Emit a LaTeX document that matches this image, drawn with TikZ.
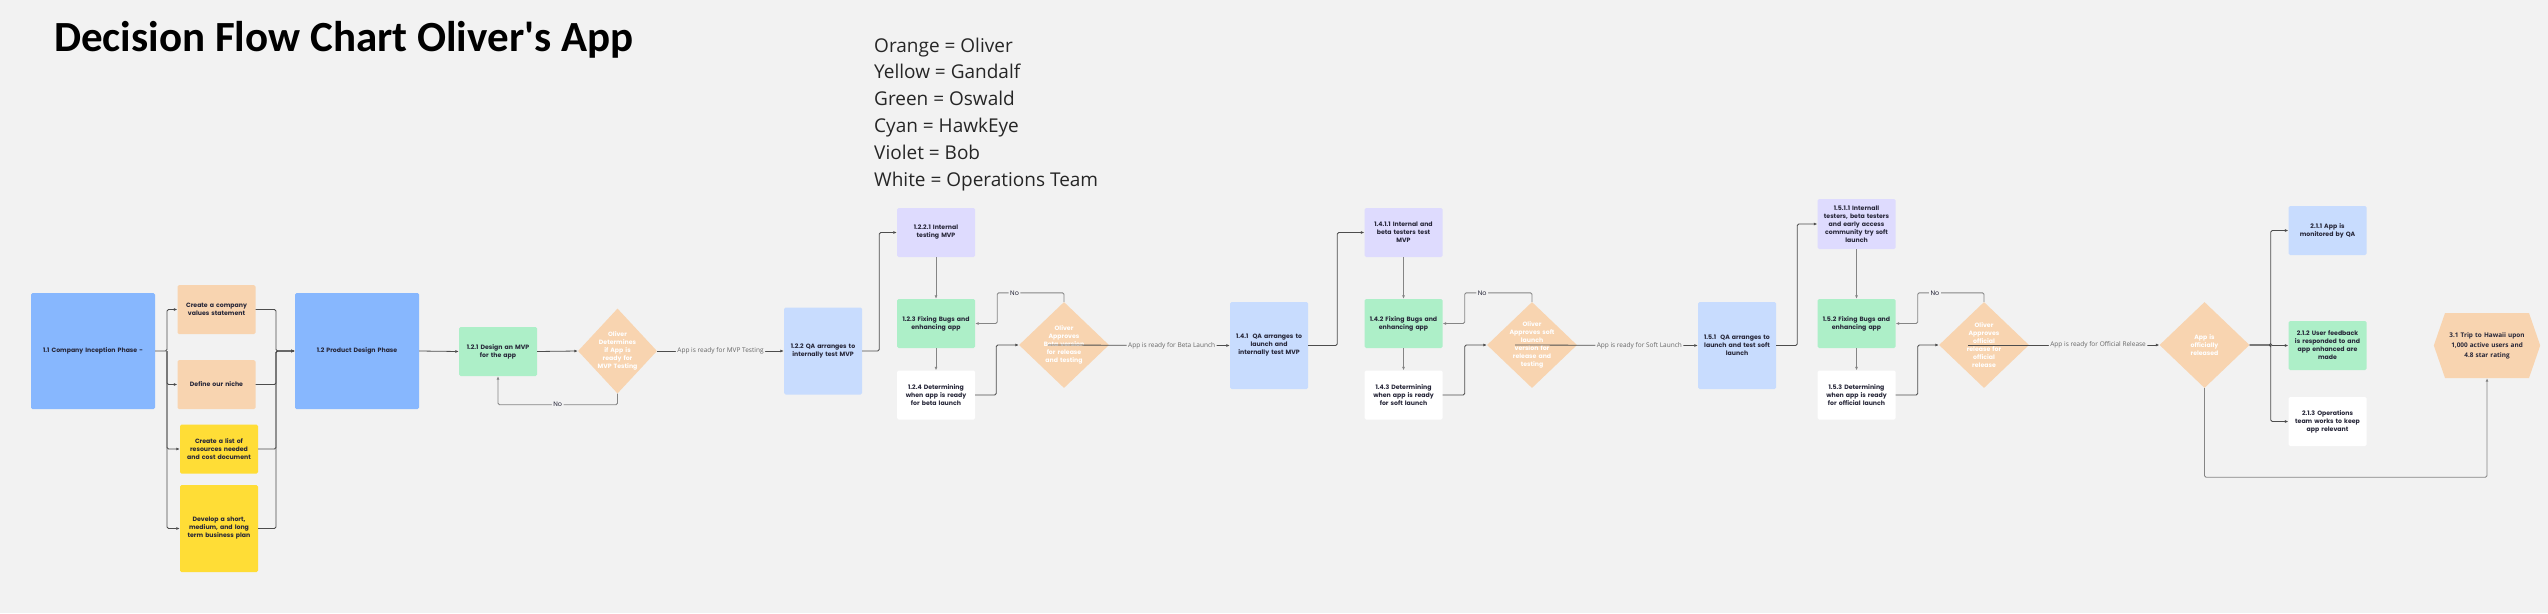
\documentclass[tikz,border=0pt]{standalone}
\usepackage{fontspec}
\setmainfont{Open Sans}
\newfontfamily\boxfont{Poppins}
\newfontfamily\titlefont{Carlito}
\usetikzlibrary{shapes.geometric,shapes.symbols,arrows.meta}

\definecolor{canvas}{HTML}{F2F2F2}
\definecolor{bigblue}{HTML}{87B7FE}
\definecolor{peach}{HTML}{F8D4B0}
\definecolor{sticky}{HTML}{FFDD36}
\definecolor{mint}{HTML}{ADEFC8}
\definecolor{qablue}{HTML}{C8DCFE}
\definecolor{lilac}{HTML}{DEDBFE}
\definecolor{ink}{HTML}{262638}
\definecolor{wire}{HTML}{4D4D4D}
\definecolor{wiregray}{HTML}{858585}
\definecolor{labelgray}{HTML}{666666}

\begin{document}
\begin{tikzpicture}[x=1pt, y=-1pt,
    box/.style={rectangle, rounded corners=1.5pt, minimum width=78pt, minimum height=49pt,
        text width=75pt, align=center, inner sep=1pt, text=ink,
        font=\boxfont\bfseries\fontsize{6.2}{8}\selectfont},
    big/.style={box, fill=bigblue, minimum width=124pt, minimum height=116pt, text width=118pt},
    tall/.style={box, minimum height=87pt},
    choice/.style={diamond, fill=peach, minimum width=90pt, minimum height=86pt, inner sep=-8pt,
        text width=50pt, align=center, text=white,
        font=\boxfont\bfseries\fontsize{6.2}{8}\selectfont},
    hexa/.style={signal, signal to=east and west, signal pointer angle=142, fill=peach,
        minimum width=106pt, minimum height=65pt, text width=84pt, align=center, inner sep=0pt,
        text=ink, font=\bfseries\fontsize{6.4}{10}\selectfont},
    conn/.style={draw=wire, line width=0.8pt, rounded corners=1.5pt, -{Latex[length=3.5pt,width=3pt]}},
    softconn/.style={conn, draw=wiregray, line width=0.9pt},
    lbl/.style={fill=canvas, inner sep=1.5pt, text=labelgray, font=\fontsize{6.5}{8}\selectfont},
    nolbl/.style={fill=canvas, inner sep=1.5pt, text=ink, font=\boxfont\fontsize{6.5}{8}\selectfont},
    legend/.style={anchor=base west, inner sep=0pt, text=black!85, font=\fontsize{19}{22}\selectfont}
  ]
  \fill[canvas] (0,0) rectangle (2548,613);
  \useasboundingbox (0,0) rectangle (2548,613);

  % title and legend
  \node[anchor=base west, inner sep=0pt, font=\titlefont\bfseries\fontsize{43}{50}\selectfont] (title) at (54,51) {Decision Flow Chart Oliver\textquotesingle s App};
  \foreach \who [count=\i] in {Orange = Oliver, Yellow = Gandalf, Green = Oswald, Cyan = HawkEye, Violet = Bob, White = Operations Team}
    \node[legend] (key\i) at (874,{52+26.8*(\i-1)}) {\who};

  % inception
  \node[big] (inc) at (93,351) {1.1 Company Inception Phase -};
  \node[box, fill=peach] (val) at (216.5,309.5) {Create a company\\values statement};
  \node[box, fill=peach] (niche) at (216.5,384.5) {Define our niche};
  \node[box, fill=sticky] (res) at (219,449) {Create a list of\\resources needed\\and cost document};
  \node[tall, fill=sticky] (plan) at (219,528.5) {Develop a short,\\medium, and long\\term business plan};
  \node[big] (des) at (357,351) {1.2 Product Design Phase};

  \coordinate (splitL) at (167,351);
  \coordinate (joinR) at (276,351);
  \draw[conn] (inc.east) -- (splitL) |- (val.west);
  \foreach \n in {niche,res,plan}
    \draw[conn] (splitL) |- (\n.west);
  \foreach \n in {val,niche,res,plan}
    \draw[conn] (\n.east) -| (joinR) -- (des.west);

  % MVP
  \node[box, fill=mint] (mvp) at (498,351.5) {1.2.1 Design an MVP\\for the app};
  \node[choice, minimum width=79pt, minimum height=85pt] (d1) at (617.5,351) {Oliver\\Determines\\if App is\\ready for\\MVP Testing};
  \node[tall, fill=qablue] (qa1) at (823,351) {1.2.2 QA arranges to\\internally test MVP};
  \node[box, fill=lilac] (int1) at (936,232.5) {1.2.2.1 Internal\\testing MVP};
  \node[box, fill=mint] (fix1) at (936,323.5) {1.2.3 Fixing Bugs and\\enhancing app};
  \node[box, fill=white] (det1) at (936,395) {1.2.4 Determining\\when app is ready\\for beta launch};
  \node[choice] (d2) at (1064,345) {Oliver\\Approves\\Beta version\\for release\\and testing};

  \draw[conn] (des.east) -- (mvp.west);
  \draw[conn] (mvp.east) -- (d1.west);
  \draw[softconn] (d1.south) -- ++(0,11) -| node[nolbl, pos=0.25] (no1) {No} (mvp.south);
  \draw[conn] (d1.east) -- node[lbl] (go1) {App is ready for MVP Testing} (qa1.west);
  \draw[conn] (qa1.east) -- ++(17,0) |- (int1.west);
  \draw[softconn] (int1.south) -- (fix1.north);
  \draw[softconn] (fix1.south) -- (det1.north);
  \draw[conn] (det1.east) -- ++(21,0) |- (d2.west);
  \draw[softconn] (d2.north) -- ++(0,-9) -| node[nolbl, pos=0.37] (no2) {No} ([xshift=22pt]fix1.east) -- (fix1.east);

  % beta launch
  \node[tall, fill=qablue] (qa2) at (1269,345.5) {1.4.1\ \ QA arranges to\\launch and\\internally test MVP};
  \node[box, fill=lilac] (int2) at (1403.5,232.5) {1.4.1.1 Internal and\\beta testers test\\MVP};
  \node[box, fill=mint] (fix2) at (1403.5,323.5) {1.4.2 Fixing Bugs and\\enhancing app};
  \node[box, fill=white] (det2) at (1403.5,395) {1.4.3 Determining\\when app is ready\\for soft launch};
  \node[choice] (d3) at (1532,345) {Oliver\\Approves soft\\launch\\version for\\release and\\testing};

  \draw[conn] ([xshift=-16pt]d2.center) -- node[lbl, pos=0.68] (go2) {App is ready for Beta Launch} (qa2.west);
  \draw[conn] (qa2.east) -- ++(29,0) |- (int2.west);
  \draw[softconn] (int2.south) -- (fix2.north);
  \draw[softconn] (fix2.south) -- (det2.north);
  \draw[conn] (det2.east) -- ++(22,0) |- (d3.west);
  \draw[softconn] (d3.north) -- ++(0,-9) -| node[nolbl, pos=0.37] (no3) {No} ([xshift=22pt]fix2.east) -- (fix2.east);

  % soft launch
  \node[tall, fill=qablue] (qa3) at (1737,345.5) {1.5.1\ \ QA arranges to\\launch and test soft\\launch};
  \node[box, fill=lilac, minimum height=50pt] (int3) at (1856.5,224) {1.5.1.1 Internall\\testers, beta testers\\and early access\\community try soft\\launch};
  \node[box, fill=mint] (fix3) at (1856.5,323.5) {1.5.2 Fixing Bugs and\\enhancing app};
  \node[box, fill=white] (det3) at (1856.5,395) {1.5.3 Determining\\when app is ready\\for official launch};
  \node[choice] (d4) at (1984,345) {Oliver\\Approves\\official\\release for\\official\\release};

  \draw[conn] ([xshift=-17pt]d3.center) -- node[lbl, pos=0.68] (go3) {App is ready for Soft Launch} (qa3.west);
  \draw[conn] (qa3.east) -- ++(21,0) |- (int3.west);
  \draw[softconn] (int3.south) -- (fix3.north);
  \draw[softconn] (fix3.south) -- (det3.north);
  \draw[conn] (det3.east) -- ++(22,0) |- (d4.west);
  \draw[softconn] (d4.north) -- ++(0,-9) -| node[nolbl, pos=0.37] (no4) {No} ([xshift=22pt]fix3.east) -- (fix3.east);

  % official release
  \node[choice] (d5) at (2204.5,345) {App is\\officially\\released};
  \node[box, fill=qablue] (mon) at (2327.5,230.5) {2.1.1 App is\\monitored by QA};
  \node[box, fill=mint] (fb) at (2327.5,345.5) {2.1.2 User feedback\\is responded to and\\app enhanced are\\made};
  \node[box, fill=white] (ops) at (2327.5,421.5) {2.1.3 Operations\\team works to keep\\app relevant};
  \node[hexa] (hex) at (2487,345.5) {3.1 Trip to Hawaii upon\\1,000 active users and\\4.8 star rating};

  \draw[conn] ([xshift=-16pt]d4.center) -- node[lbl, pos=0.68] (go4) {App is ready for Official Release} (d5.west);
  \foreach \n in {mon,fb,ops}
    \draw[conn] (d5.east) -- ++(21,0) |- (\n.west);
  \draw[softconn] (d5.south) -- ++(0,89) -| (hex.south);
\end{tikzpicture}
\end{document}
